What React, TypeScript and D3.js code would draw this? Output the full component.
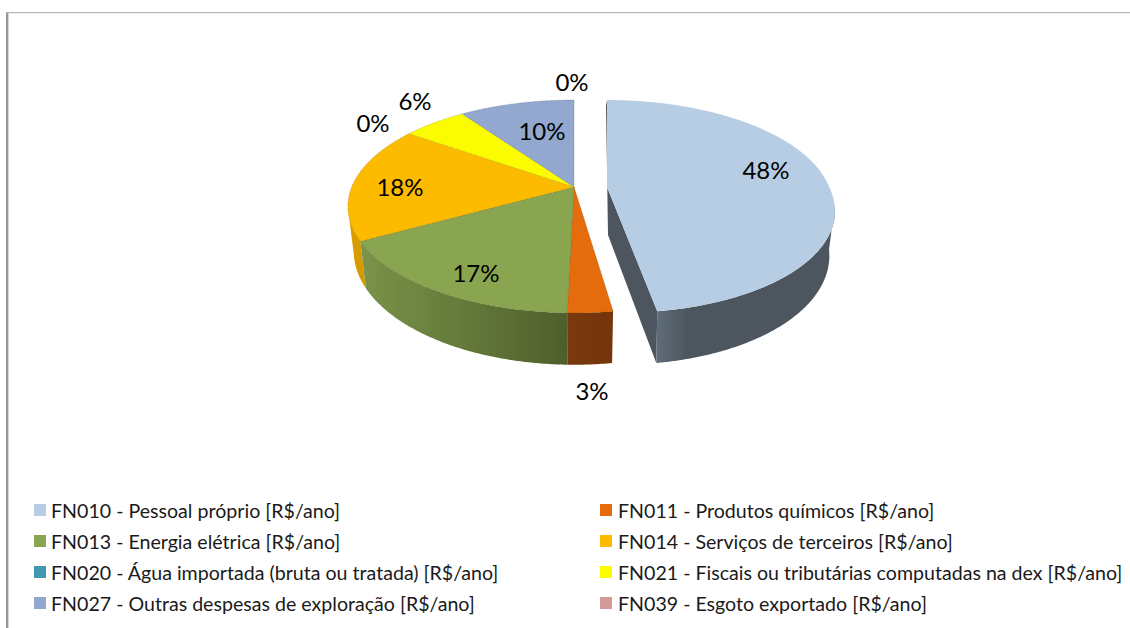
import React from "react";
import * as d3 from "d3";

const seriesNames = [
  "FN010 - Pessoal próprio [R$/ano]",
  "FN011 - Produtos químicos [R$/ano]",
  "FN013 - Energia elétrica [R$/ano]",
  "FN014 - Serviços de terceiros [R$/ano]",
  "FN020 - Água importada (bruta ou tratada) [R$/ano]",
  "FN021 - Fiscais ou tributárias computadas na dex [R$/ano]",
  "FN027 - Outras despesas de exploração [R$/ano]",
  "FN039 - Esgoto exportado [R$/ano]",
];
const shares = [47.7, 2.7, 16.6, 17.7, 0, 5.5, 9.8, 0];
const faceColors = ["#b7cde3", "#e46c0a", "#8aa54f", "#fdbb00", "#4198af", "#fcfc00", "#92a8cf", "#d49a97"];
const wallColorsLight = ["#5e6b7b", "#7a3808", "#7b9349", "#dca100", "#327585", "#c0c000", "#6b7b99", "#a07070"];
const wallColorsDark = ["#4d565e", "#743507", "#4e5f2b", "#d49b00", "#245762", "#a0a000", "#505a70", "#906060"];
const labelPositions: [number, number][] = [
  [766, 169], [592, 390], [476, 272], [400, 186], [373, 122], [415, 100], [542, 130], [572, 81],
];

// Perspective projection of the pie disc
const apex = { x: 574, y: 187 };
const explodeDx = 33;
const explodeShear = 0.09;
const persp = { k: 0.183, a: 102.9, b: 222.2 };
const base = { drop: 43, sx: 0.975, sy: 1.07 };

function project(theta: number) {
  const u = Math.sin(theta);
  const v = -Math.cos(theta);
  const d = 1 - persp.k * v;
  return { x: (persp.b * u) / d, y: (persp.a * v) / d };
}
function offset(i: number, y: number) {
  return i === 0 ? explodeDx + explodeShear * Math.max(0, y) : 0;
}
function topPt(theta: number, i: number): [number, number] {
  const p = project(theta);
  return [apex.x + offset(i, p.y) + p.x, apex.y + p.y];
}
function basePt(theta: number, i: number): [number, number] {
  const p = project(theta);
  return [apex.x + offset(i, p.y) + p.x * base.sx, apex.y + base.drop + p.y * base.sy];
}
const line = d3.line<[number, number]>();

const arcs = d3.pie<number>().sort(null).startAngle(0).endAngle(2 * Math.PI)(shares);
const pctLabel = d3.format(".0f");

function samples(a: number, b: number) {
  const n = Math.max(2, Math.ceil((b - a) / 0.01));
  return d3.range(n + 1).map((i) => a + ((b - a) * i) / n);
}

const wallLimitA = (100 * Math.PI) / 180; // right silhouette
const wallLimitB = (258 * Math.PI) / 180; // left silhouette

function Wall({ i }: { i: number }) {
  const arc = arcs[i];
  const a = Math.max(arc.startAngle, wallLimitA);
  const b = Math.min(arc.endAngle, wallLimitB);
  if (b <= a) return null;
  const ts = samples(a, b);
  const pts = [...ts.map((t) => topPt(t, i)), ...ts.slice().reverse().map((t) => basePt(t, i))];
  return <path d={(line(pts) as string) + "Z"} fill={`url(#wall${i})`} />;
}

function Face({ i }: { i: number }) {
  const arc = arcs[i];
  if (arc.endAngle - arc.startAngle <= 0) return null;
  const pts: [number, number][] = [[apex.x + offset(i, 0), apex.y], ...samples(arc.startAngle, arc.endAngle).map((t) => topPt(t, i))];
  return <path d={(line(pts) as string) + "Z"} fill={faceColors[i]} stroke={d3.color(faceColors[i])!.darker(1.2).formatHex()} strokeWidth={i === 0 ? 0 : 0.5} strokeDasharray="1.5 1" />;
}

function CutFace() {
  const end = arcs[0].endAngle;
  const rim = topPt(end, 0);
  const rimB = basePt(end, 0);
  const startT = topPt(0, 0);
  const a: [number, number] = [apex.x + explodeDx, apex.y];
  const aB: [number, number] = [apex.x + explodeDx + 1, apex.y + base.drop + 5];
  const pts: [number, number][] = [startT, a, rim, rimB, aB, [startT[0] - 1, startT[1] + 6]];
  return <path d={(line(pts) as string) + "Z"} fill={wallColorsDark[0]} />;
}

const legendCols = [34, 600];
const legendRows = [510, 541, 572, 603];
const textOffset = 17;

export default function App() {
  const wallOrder = [3, 2, 1];
  return (
    <svg width={1130} height={628} style={{ position: "absolute", left: 0, top: 0, background: "#fff" }} fontFamily="Lato, Carlito, sans-serif">
      <defs>
        <filter id="soft" x="-5%" y="-5%" width="110%" height="110%">
          <feGaussianBlur stdDeviation="0.5" />
        </filter>
        {arcs.map((arc, i) => {
          const a = Math.max(arc.startAngle, wallLimitA);
          const b = Math.min(arc.endAngle, wallLimitB);
          const x1 = topPt(a, i)[0];
          const x2 = topPt(b, i)[0];
          const [l, r] = x1 < x2 ? [x1, x2] : [x2, x1];
          const stops = i === 0 ? [wallColorsLight[i], wallColorsDark[i], wallColorsDark[i]] : [wallColorsLight[i], wallColorsDark[i]];
          return (
            <linearGradient key={i} id={`wall${i}`} gradientUnits="userSpaceOnUse" x1={l} x2={i === 0 ? l + 60 : r} y1={0} y2={0}>
              {stops.map((c, j) => (
                <stop key={j} offset={j / (stops.length - 1)} stopColor={c} />
              ))}
            </linearGradient>
          );
        })}
      </defs>

      <rect x={6} y={12} width={2.4} height={616} fill="#979797" />
      <rect x={6} y={12} width={1124} height={1.2} fill="#b4b4b4" />

      <g filter="url(#soft)">
        {wallOrder.map((i) => <Wall key={i} i={i} />)}
        <CutFace />
        <Wall i={0} />
        {arcs.map((_, i) => <Face key={i} i={i} />)}
      </g>

      <g fontSize={24} fill="#000" textAnchor="middle" dominantBaseline="central">
        {shares.map((s, i) => (
          <text key={i} x={labelPositions[i][0]} y={labelPositions[i][1]}>{pctLabel(s)}%</text>
        ))}
      </g>

      <g fontSize={19.6} fill="#1a1a1a">
        {seriesNames.map((name, i) => {
          const col = i % 2;
          const row = Math.floor(i / 2);
          return (
            <g key={i}>
              <rect x={legendCols[col]} y={legendRows[row] - 6} width={12} height={12} fill={faceColors[i]} />
              <text x={legendCols[col] + textOffset + (col ? 1 : 0)} y={legendRows[row]} dominantBaseline="central">{name}</text>
            </g>
          );
        })}
      </g>
    </svg>
  );
}
